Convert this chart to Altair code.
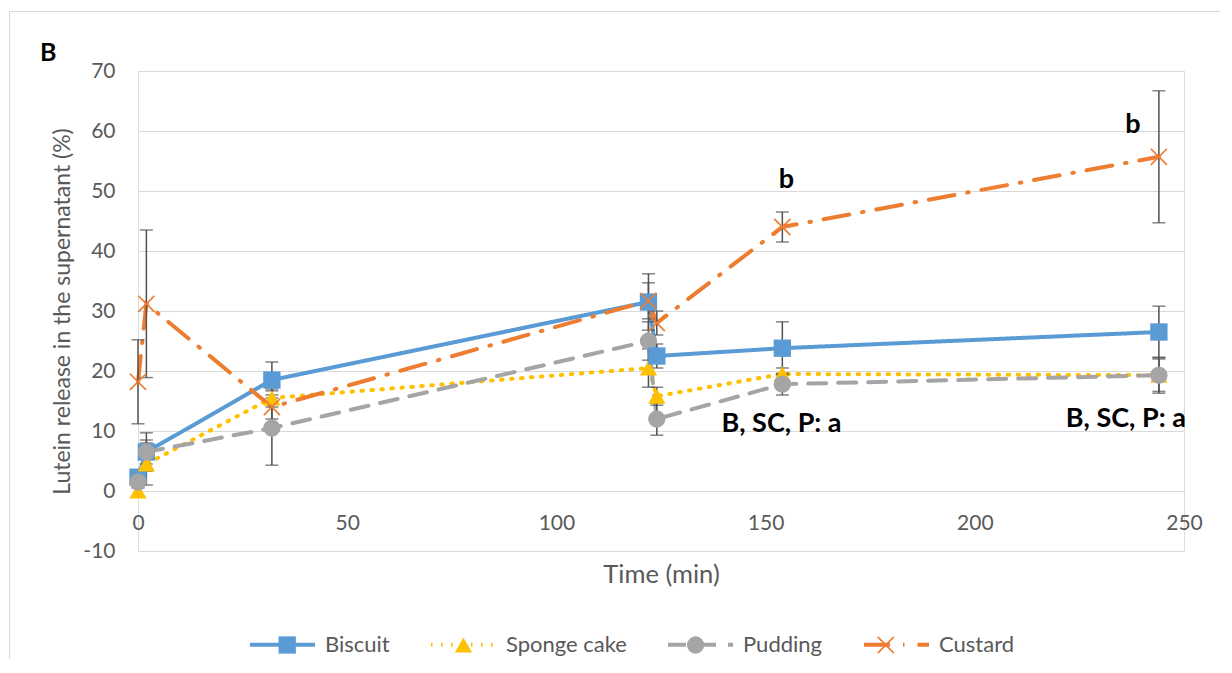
import altair as alt
import pandas as pd

series = ["Biscuit", "Sponge cake", "Pudding", "Custard"]
colors = ["#5B9BD5", "#FFC000", "#A5A5A5", "#ED7D31"]
times = [0, 2, 32, 122, 124, 154, 244]

biscuit = [2.3, 6.5, 18.5, 31.5, 22.5, 23.8, 26.5]
biscuit_err = [1.0, 2.0, 3.0, 4.7, 2.0, 4.4, 4.3]
sponge = [0.0, 4.5, 15.5, 20.5, 15.8, 19.5, 19.3]
sponge_err = [1.0, 3.5, 1.5, 3.2, 1.5, 1.0, 3.0]
pudding = [1.5, 6.5, 10.5, 25.0, 12.0, 17.8, 19.3]
pudding_err = [1.0, 3.2, 6.2, 3.2, 2.7, 1.8, 2.7]
custard = [18.2, 31.2, 14.0, 31.7, 28.0, 44.0, 55.7]
custard_err = [7.0, 12.3, 2.0, 3.0, 2.0, 2.5, 11.0]

ann_text = ["b", "b", "B, SC, P: a", "B, SC, P: a"]
ann_x = [155.0, 237.8, 153.8, 236.1]
ann_y = [51.8, 61.0, 11.2, 12.0]

x_ticks = [0, 50, 100, 150, 200, 250]
y_ticks = [-10, 0, 10, 20, 30, 40, 50, 60, 70]

values = [biscuit, sponge, pudding, custard]
errors = [biscuit_err, sponge_err, pudding_err, custard_err]
rows = []
for s, vals, errs in zip(series, values, errors):
    for i, (t, v, e) in enumerate(zip(times, vals, errs)):
        rows.append({"series": s, "idx": i, "t": t, "v": v, "lo": v - e, "hi": v + e})
df = pd.DataFrame(rows)
ann = pd.DataFrame({"text": ann_text, "x": ann_x, "y": ann_y})

FONT = "Lato"
GREY = "#595959"

x_path = "M-1,-0.86L-0.86,-1L1,0.86L0.86,1Z M0.86,-1L1,-0.86L-0.86,1L-1,0.86Z"
color_scale = alt.Scale(domain=series, range=colors)
dash_scale = alt.Scale(domain=series, range=[[1, 0], [1.5, 8.5], [18, 12], [26, 13, 1.5, 13]])
shape_scale = alt.Scale(domain=series, range=["square", "triangle-up", "circle", x_path])

xs = alt.Scale(domain=[0, 250], nice=False)
ys = alt.Scale(domain=[-10, 70], nice=False)

x_enc = alt.X("t:Q", scale=xs, axis=alt.Axis(
    values=x_ticks, title="Time (min)", grid=False, ticks=False, offset=-60,
    labelFlush=False, labelExpr="'' + datum.value",
    domainColor="#D9D9D9", domainWidth=1, labelFont=FONT, labelFontSize=21,
    labelColor=GREY, labelPadding=21, titleFont=FONT, titleFontSize=25.5,
    titleColor=GREY, titleFontWeight="normal", titleY=83, titleBaseline="middle"))
y_enc = alt.Y("v:Q", scale=ys, axis=alt.Axis(
    values=y_ticks, title="Lutein release in the supernatant (%)", grid=True,
    labelExpr="'' + datum.value",
    gridColor="#D9D9D9", gridWidth=1, domain=False, ticks=False,
    labelFont=FONT, labelFontSize=21, labelColor=GREY, labelPadding=23,
    titleFont=FONT, titleFontSize=23, titleColor=GREY, titleFontWeight="normal",
    titleX=-76, titleY=240, titleAngle=-90, titleAlign="center", titleBaseline="middle"))

LEG_Y = 539
line_legend = alt.Legend(orient="none", legendX=110, legendY=LEG_Y, direction="horizontal",
                         title=None, symbolType="stroke", symbolSize=4225, symbolStrokeWidth=4,
                         labelFont=FONT, labelFontSize=22, labelColor=GREY, labelOffset=8,
                         columnPadding=33)
point_legend = alt.Legend(orient="none", legendX=138.2, legendY=LEG_Y + 24, direction="horizontal",
                          title=None, symbolSize=300, symbolStrokeWidth=0,
                          labelFont=FONT, labelFontSize=22, labelColor=GREY, labelOffset=40.5,
                          labelOpacity=0, columnPadding=48.2)

base = alt.Chart(df)

lines = base.mark_line(strokeWidth=4, strokeCap="round").encode(
    x=x_enc, y=y_enc,
    color=alt.Color("series:N", scale=color_scale, legend=line_legend),
    strokeDash=alt.StrokeDash("series:N", scale=dash_scale, legend=line_legend),
    order="idx:Q",
)

err_rule = base.mark_rule(color="#505050", strokeWidth=1.5).encode(
    x="t:Q", y="lo:Q", y2="hi:Q")
err_lo = base.mark_tick(color="#505050", orient="horizontal", size=13, thickness=1.5).encode(
    x="t:Q", y="lo:Q")
err_hi = base.mark_tick(color="#505050", orient="horizontal", size=13, thickness=1.5).encode(
    x="t:Q", y="hi:Q")

points = base.mark_point(filled=True, opacity=1, size=300, strokeWidth=0).encode(
    x="t:Q", y="v:Q",
    color=alt.Color("series:N", scale=color_scale, legend=point_legend),
    shape=alt.Shape("series:N", scale=shape_scale, legend=point_legend),
    order="idx:Q",
)

texts = alt.Chart(ann).mark_text(font=FONT, fontSize=27, fontWeight="bold", color="black",
                                 align="center", baseline="middle").encode(
    x=alt.X("x:Q", scale=xs), y=alt.Y("y:Q", scale=ys), text="text:N")

frame_df = pd.DataFrame({"k": [0]})
frame_top = alt.Chart(frame_df).mark_rule(color="#D9D9D9", strokeWidth=1).encode(
    x=alt.value(-128.5), x2=alt.value(1100), y=alt.value(-59.5))
frame_left = alt.Chart(frame_df).mark_rule(color="#D9D9D9", strokeWidth=1).encode(
    x=alt.value(-128.5), y=alt.value(-59.5), y2=alt.value(700))

chart = alt.layer(frame_top, frame_left, lines, err_rule, err_lo, err_hi, points, texts).resolve_legend(
    color="independent", shape="independent", strokeDash="independent"
).properties(
    width=1046, height=480,
    title=alt.Title("B", anchor="start", frame="group", dx=-98, offset=-55, font=FONT, fontSize=25,
                    fontWeight="bold", color="black"),
    autosize=alt.AutoSizeParams(type="none"),
    padding={"left": 130, "top": 63, "right": 36, "bottom": 108},
).configure_view(stroke=None).configure(background="white")

chart.save("out.html", embed_options={"renderer": "svg", "actions": False})
